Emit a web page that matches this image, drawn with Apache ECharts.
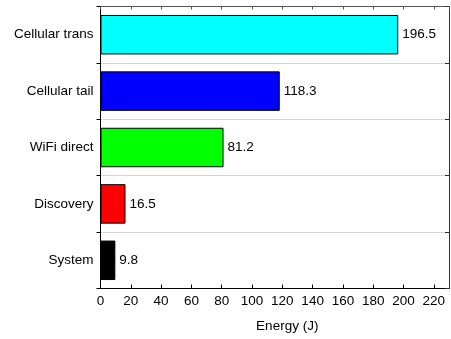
<!DOCTYPE html>
<html>
<head>
<meta charset="utf-8">
<script src="https://cdn.jsdelivr.net/npm/echarts@6/dist/echarts.min.js"></script>
<style>
  html, body { margin: 0; padding: 0; background: #fff; }
  #chart { width: 451px; height: 339px; }
</style>
</head>
<body>
<div id="chart"></div>
<script>
// Energy breakdown by component
const categories = ['System', 'Discovery', 'WiFi direct', 'Cellular tail', 'Cellular trans'];
const energy = [9.8, 16.5, 81.2, 118.3, 196.5];
const barColors = ['#000000', '#ff0000', '#00ff00', '#0000ff', '#00ffff'];
const xTicks = { min: 0, max: 230, interval: 20 };

const FONT = 'Liberation Sans, Arial, Helvetica, sans-serif';
const FS = 13.5;
const chart = echarts.init(document.getElementById('chart'), null, { renderer: 'canvas' });

chart.setOption({
  animation: false,
  backgroundColor: '#ffffff',
  grid: { left: 100.5, right: 2, top: 6.5, bottom: 50.5, containLabel: false },
  xAxis: [
    {
      type: 'value',
      position: 'bottom',
      min: xTicks.min,
      max: xTicks.max,
      interval: xTicks.interval,
      axisLine: { show: true, lineStyle: { color: '#000', width: 1 } },
      axisTick: { show: true, inside: true, length: 4, lineStyle: { color: '#000' } },
      axisLabel: { color: '#000', fontSize: FS, fontFamily: FONT, margin: 6, showMaxLabel: false },
      splitLine: { show: false },
      name: 'Energy (J)',
      nameLocation: 'middle',
      nameGap: 31,
      nameTextStyle: { color: '#000', fontSize: FS, fontFamily: FONT, padding: [0, 0, 0, 25] }
    },
    {
      type: 'value',
      position: 'top',
      min: xTicks.min,
      max: xTicks.max,
      interval: xTicks.interval,
      axisLine: { show: true, onZero: false, lineStyle: { color: '#555', width: 1 } },
      axisTick: { show: true, inside: true, length: 3, lineStyle: { color: '#555' } },
      axisLabel: { show: false },
      splitLine: { show: false }
    }
  ],
  yAxis: [
    {
      type: 'category',
      position: 'left',
      data: categories,
      boundaryGap: true,
      axisLine: { show: true, lineStyle: { color: '#000', width: 1 } },
      axisTick: { show: true, inside: false, length: 4, lineStyle: { color: '#000' } },
      axisLabel: { color: '#000', fontSize: FS, fontFamily: FONT, margin: 7 },
      splitLine: { show: true, lineStyle: { color: '#aaa', type: [1, 1], width: 1 } }
    },
    {
      type: 'category',
      position: 'right',
      data: categories,
      boundaryGap: true,
      axisLine: { show: true, onZero: false, lineStyle: { color: '#333', width: 1 } },
      axisTick: { show: true, inside: true, length: 4, lineStyle: { color: '#333' } },
      axisLabel: { show: false },
      splitLine: { show: false }
    }
  ],
  series: [
    {
      type: 'bar',
      xAxisIndex: 0,
      yAxisIndex: 0,
      barWidth: '70%',
      data: energy.map((v, i) => ({
        value: v,
        itemStyle: { color: barColors[i], borderColor: '#000', borderWidth: 1 }
      })),
      label: {
        show: true,
        position: 'right',
        distance: 4,
        color: '#000',
        fontSize: FS,
        fontFamily: FONT,
        formatter: p => p.value.toFixed(1)
      }
    }
  ]
});
</script>
</body>
</html>
